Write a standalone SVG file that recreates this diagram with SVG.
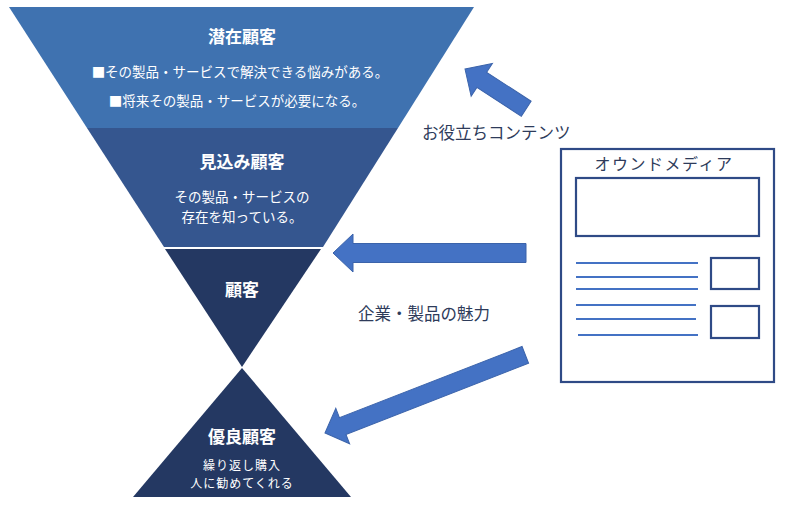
<svg xmlns="http://www.w3.org/2000/svg" width="800" height="508" viewBox="0 0 800 508">
<style>
  .t{font-family:"Noto Sans CJK JP","Noto Sans",sans-serif;fill:#ffffff;text-anchor:middle;dominant-baseline:central}
  .h{font-size:17px;font-weight:bold}
  .b{font-size:13.5px}
  .s{font-size:12px;letter-spacing:1px}
  .lab{font-family:"Noto Sans CJK JP","Noto Sans",sans-serif;fill:#2E3B5A;font-size:16.5px;dominant-baseline:central}
  .arrow{fill:#4472C4;stroke:#3B63AA;stroke-width:1}
  .frame{fill:#ffffff;stroke:#2F4A86;stroke-width:2.2}
  .ln{stroke:#4472C4;stroke-width:2.2}
</style>
<rect width="800" height="508" fill="#ffffff"/>
<g id="potential">
  <polygon points="9,7 474,7 398,128 87,128" fill="#3F72B0"/>
  <text class="t h" x="242" y="35">潜在顧客</text>
  <text class="t b" x="240" y="71">■その製品・サービスで解決できる悩みがある。</text>
  <text class="t b" x="237" y="100">■将来その製品・サービスが必要になる。</text>
</g>
<g id="prospect">
  <polygon points="87,128 398,128 323,247 164,247" fill="#35568F"/>
  <text class="t h" x="242" y="160">見込み顧客</text>
  <text class="t b" x="242" y="196">その製品・サービスの</text>
  <text class="t b" x="242" y="216">存在を知っている。</text>
</g>
<g id="customer">
  <polygon points="165,249 321,249 242,367" fill="#243862"/>
  <text class="t h" x="242" y="288">顧客</text>
</g>
<g id="loyal">
  <polygon points="242,368 351,497 133,497" fill="#243862"/>
  <text class="t h" x="242" y="435">優良顧客</text>
  <text class="t s" x="242" y="464">繰り返し購入</text>
  <text class="t s" x="242" y="482">人に勧めてくれる</text>
</g>
<g id="media">
  <rect class="frame" x="561" y="149" width="213" height="233"/>
  <text class="lab" x="664" y="163" text-anchor="middle" style="font-size:16px;letter-spacing:1.5px">オウンドメディア</text>
  <rect class="frame" x="576" y="178" width="183" height="58"/>
  <rect class="frame" x="711" y="258" width="48" height="31"/>
  <rect class="frame" x="711" y="306" width="48" height="32"/>
  <line class="ln" x1="576" y1="263" x2="698" y2="263"/>
  <line class="ln" x1="576" y1="277" x2="698" y2="277"/>
  <line class="ln" x1="576" y1="289" x2="698" y2="289"/>
  <line class="ln" x1="576" y1="305" x2="696" y2="305"/>
  <line class="ln" x1="576" y1="319" x2="696" y2="319"/>
  <line class="ln" x1="578" y1="335" x2="698" y2="335"/>
</g>
<g id="connectors">
  <polygon class="arrow" transform="translate(465,69) rotate(33)" points="0,0 20,-19.5 20,-9 73,-9 73,9 20,9 20,19.5"/>
  <polygon class="arrow" transform="translate(333,253)" points="0,0 20,-19 20,-9.5 193,-9.5 193,9.5 20,9.5 20,19"/>
  <polygon class="arrow" transform="translate(325,433) rotate(-21.3)" points="0,0 19,-19 19,-9 215,-9 215,9 19,9 19,19"/>
  <text class="lab" x="422" y="132">お役立ちコンテンツ</text>
  <text class="lab" x="358" y="313">企業・製品の魅力</text>
</g>
</svg>
